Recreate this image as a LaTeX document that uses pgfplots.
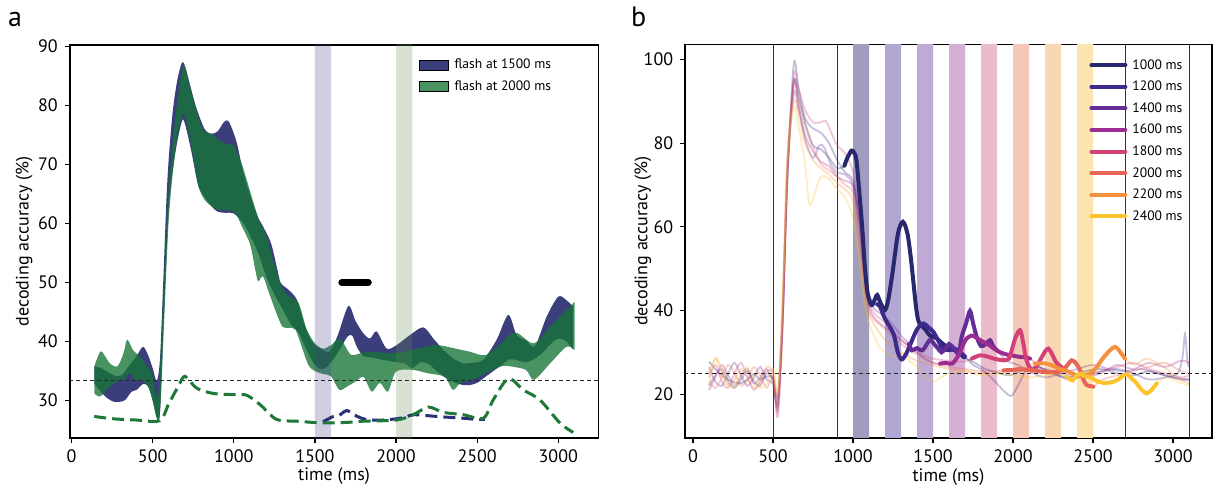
\documentclass[border=0pt]{standalone}
\usepackage{fontspec}
\setmainfont{PT Sans}
\usepackage{pgfplots}
\pgfplotsset{compat=1.18}
\usepgfplotslibrary{fillbetween}

\definecolor{bandblue}{RGB}{58,62,122}
\definecolor{bandgreen}{RGB}{22,117,55}
\definecolor{dashblue}{RGB}{40,48,120}
\definecolor{dashgreen}{RGB}{30,120,55}
\definecolor{barlav}{RGB}{67,63,139}
\definecolor{bargrn}{RGB}{99,139,84}
\definecolor{cA}{RGB}{40,40,110}
\definecolor{cB}{RGB}{62,42,140}
\definecolor{cC}{RGB}{100,45,150}
\definecolor{cD}{RGB}{155,45,145}
\definecolor{cE}{RGB}{210,65,120}
\definecolor{cF}{RGB}{232,100,85}
\definecolor{cG}{RGB}{245,145,60}
\definecolor{cH}{RGB}{252,195,45}
\definecolor{bA}{RGB}{160,156,190}
\definecolor{bB}{RGB}{178,166,210}
\definecolor{bC}{RGB}{190,170,212}
\definecolor{bD}{RGB}{213,176,213}
\definecolor{bE}{RGB}{234,188,203}
\definecolor{bF}{RGB}{245,199,185}
\definecolor{bG}{RGB}{249,214,180}
\definecolor{bH}{RGB}{253,229,178}

\pgfplotsset{
  myax/.style={
    scale only axis,
    axis line style={line width=0.9pt},
    tick align=outside,
    tick pos=left,
    major tick length=2.4pt,
    every tick/.style={black, line width=0.6pt},
    tick label style={font=\fontsize{9}{10}\selectfont},
    label style={font=\fontsize{9}{10}\selectfont},
    /pgf/number format/assume math mode=true,
    /pgf/number format/1000 sep={},
  },
  faint/.style={line width=0.9pt, draw opacity=0.3, smooth, forget plot},
  thick/.style={line width=2pt, line cap=round, smooth},
}

\begin{document}
\begin{tikzpicture}
\node[font=\fontsize{14}{16}\selectfont] at (7.5pt,234.4pt) {a};
\node[font=\fontsize{14}{16}\selectfont] at (319.3pt,235.6pt) {b};

% ---------------- panel a ----------------
\begin{axis}[myax,
  at={(34.8pt,24.85pt)}, anchor=south west,
  width=264.45pt, height=196.85pt,
  xmin=-12, xmax=3248, ymin=23.6, ymax=90.3,
  xtick={0,500,...,3000}, ytick={30,40,...,90},
  xlabel={time (ms)}, ylabel={decoding accuracy (\%)},
  xlabel style={at={(axis description cs:0.5,-0.0958)}, anchor=center},
  ylabel style={at={(axis description cs:-0.086,0.5)}, anchor=center},
  legend style={at={(axis cs:2140,88.0)}, anchor=north west, draw=none, fill=none,
    font=\fontsize{6.8}{8}\selectfont, row sep=4.1pt, inner sep=0pt,
    nodes={inner xsep=2.9pt, inner ysep=0pt, text height=5.2pt, text depth=1.3pt}},
  legend cell align=left,
  legend image code/.code={\fill[#1] (0pt,-2.5pt) rectangle (14.4pt,2.5pt);},
]
\addplot[name path=BU, draw=none, smooth, forget plot] coordinates {
(140,35.8) (180,35.5) (220,34.9) (270,34.2) (310,34.3) (350,35.7) (400,37.5) (440,39.1) (470,37.8) (500,35.5) (525,33.3)
(545,37) (565,50) (590,67) (620,78) (650,84) (680,87.2) (700,86.6) (730,83.5) (770,79.5) (820,76) (860,75.2) (900,75.6)
(940,77.2) (965,77.4) (990,76) (1020,73.5) (1060,68.5) (1110,64) (1150,61) (1180,59.5) (1230,56.6) (1270,52) (1290,49.9)
(1340,48.7) (1390,47) (1440,42.5) (1490,39.7) (1540,38.7) (1590,38.3) (1640,41) (1706,46) (1750,43.5) (1798,41.4)
(1840,40.5) (1880,41.7) (1942,38.8) (2004,39.4) (2086,41.1) (2168,42.4) (2230,40.5) (2291,38.6) (2350,37.2) (2414,36.3)
(2470,36.4) (2538,36.9) (2620,40.3) (2692,44.5) (2743,41.1) (2800,40.2) (2856,39.2) (2928,44.2) (3000,47.6) (3050,47) (3092,45.9)};
\addplot[name path=BL, draw=none, smooth, forget plot] coordinates {
(140,32.9) (180,31.5) (220,30.4) (260,29.8) (300,29.8) (331,30.1) (370,31.5) (402,31.8) (440,32.8) (472,32.4) (500,30) (525,27.2)
(545,28) (570,45) (600,63) (640,72) (680,77.3) (700,76.8) (740,72) (780,66.5) (820,64.5) (860,63) (900,62) (950,61.8) (1000,61.7)
(1060,60) (1100,58) (1150,55) (1200,51) (1250,48) (1300,45.5) (1350,43) (1400,41.5) (1450,38.5) (1500,36) (1550,35.3)
(1600,36.5) (1650,38.5) (1700,40.8) (1730,41) (1760,39) (1800,37.5) (1850,37.3) (1900,37) (2000,36.5) (2050,36.3)
(2100,35.5) (2150,36.5) (2200,36.2) (2250,35) (2300,34) (2350,33.2) (2400,32.7) (2450,32.6) (2500,33) (2550,34) (2600,35)
(2650,36) (2700,37) (2750,36.8) (2800,36.5) (2850,37) (2900,38) (2950,39.5) (3000,40.5) (3050,40) (3092,38.6)};
\addplot[bandblue, forget plot] fill between[of=BU and BL];

\addplot[name path=GU, draw=none, smooth, forget plot] coordinates {
(140,35.8) (177,38.3) (200,37.8) (236,36.3) (283,35.8) (320,38) (343,40.3) (380,38.5) (425,37.4) (460,36) (496,34.6) (520,30.5)
(540,33) (570,50) (600,66) (640,78) (680,86) (700,86.3) (740,82) (780,78) (820,75.5) (862,75.2) (900,74.2) (960,73.4)
(1000,73.2) (1050,70) (1100,65.5) (1158,60.3) (1200,58) (1250,53) (1300,49) (1350,47.5) (1400,46.5) (1450,42) (1500,39.7)
(1550,38.8) (1600,39.4) (1655,40.5) (1720,37.8) (1780,38) (1850,38.3) (1950,38) (2050,38.3) (2150,38.9) (2250,39.4)
(2350,38.9) (2450,38.3) (2550,37.7) (2650,39.7) (2700,41.1) (2750,41.4) (2850,39.7) (2950,42.5) (3050,45.3) (3100,46.7)};
\addplot[name path=GL, draw=none, smooth, forget plot] coordinates {
(140,31.2) (177,30.7) (236,32.4) (283,33.2) (320,33.5) (360,34.6) (390,33.5) (430,33.5) (470,32.5) (500,30) (525,27)
(545,28) (570,43) (600,61) (640,72.5) (680,78.3) (700,78) (740,73) (780,66.5) (820,64) (860,63) (900,62.3) (1000,62)
(1050,59.5) (1100,56.5) (1130,52.5) (1150,50.2) (1180,51) (1220,48) (1260,45) (1300,42.5) (1340,42.3) (1380,42) (1420,39)
(1460,36) (1500,35) (1550,34.5) (1600,34.1) (1650,31.8) (1700,32.4) (1750,33.2) (1800,34) (1850,31.5) (1900,33) (1950,31.5)
(2000,34.9) (2100,35.2) (2200,34.6) (2300,34) (2350,31.8) (2400,33) (2500,33.8) (2550,34.6) (2650,35.8) (2700,35.8)
(2800,35.2) (2850,33.5) (2950,36.3) (3050,39.1) (3100,38.6)};
\addplot[fill=bandgreen, fill opacity=0.78, draw=none, forget plot] fill between[of=GU and GL];

\addplot[fill=barlav, fill opacity=0.25, draw=none, forget plot] coordinates {(1500,0) (1600,0) (1600,100) (1500,100) (1500,0)};
\addplot[fill=bargrn, fill opacity=0.25, draw=none, forget plot] coordinates {(2000,0) (2100,0) (2100,100) (2000,100) (2000,0)};

\addplot[black!85, line width=0.6pt, dash pattern=on 2pt off 1.5pt, forget plot] coordinates {(-100,33.33) (3400,33.33)};

\addplot[dashblue, line width=1.5pt, dash pattern=on 6pt off 3pt, smooth, forget plot] coordinates {
(1550,26.4) (1613,27.3) (1650,27.5) (1696,28.3) (1740,27.6) (1798,26.9) (1850,26.7) (1921,26.7) (2000,26.9) (2060,27.2)
(2106,27.6) (2209,27.4) (2300,27.2) (2414,27) (2500,26.8) (2548,26.8)};
\addplot[dashgreen, line width=1.5pt, dash pattern=on 6pt off 3pt, smooth, forget plot] coordinates {
(140,27.3) (260,26.9) (400,26.7) (543,26.6) (600,29.5) (660,32.5) (699,34.1) (771,32.1) (874,31.2) (1000,31)
(1079,30.9) (1162,29.3) (1264,26.8) (1388,26.5) (1552,26.2) (1700,26.3) (1798,26.5) (2004,26.7) (2106,27.6) (2199,28.9)
(2291,28) (2414,27.6) (2538,27) (2599,30.1) (2692,33.7) (2784,31.8) (2887,30.1) (3010,26.2) (3092,24.6)};

\addplot[black, line width=3.3pt, line cap=round, forget plot] coordinates {(1665,50) (1830,50)};

\addlegendimage{fill=bandblue}
\addlegendentry{flash at 1500 ms}
\addlegendimage{fill=bandgreen, fill opacity=0.78}
\addlegendentry{flash at 2000 ms}
\end{axis}

% ---------------- panel b ----------------
\begin{axis}[myax,
  at={(342.5pt,25.15pt)}, anchor=south west,
  width=263.45pt, height=196.65pt,
  xmin=-50, xmax=3243, ymin=9.6, ymax=103.6,
  xtick={0,500,...,3000}, ytick={20,40,...,100},
  xlabel={time (ms)}, ylabel={decoding accuracy (\%)},
  xlabel style={at={(axis description cs:0.5,-0.0999)}, anchor=center},
  ylabel style={at={(axis description cs:-0.0797,0.5)}, anchor=center},
  legend style={at={(axis cs:2475,100.3)}, anchor=north west, draw=none, fill=none,
    font=\fontsize{6.8}{8}\selectfont, row sep=4.3pt, inner sep=0pt,
    nodes={inner xsep=2.5pt, inner ysep=0pt, text height=5.2pt, text depth=1.3pt}},
  legend cell align=left,
  legend image code/.code={\draw[#1] (0pt,0pt) -- (17pt,0pt);},
]
% bars
\addplot[fill=bA, draw=none, forget plot] coordinates {(1000,0) (1100,0) (1100,110) (1000,110) (1000,0)};
\addplot[fill=bB, draw=none, forget plot] coordinates {(1200,0) (1300,0) (1300,110) (1200,110) (1200,0)};
\addplot[fill=bC, draw=none, forget plot] coordinates {(1400,0) (1500,0) (1500,110) (1400,110) (1400,0)};
\addplot[fill=bD, draw=none, forget plot] coordinates {(1600,0) (1700,0) (1700,110) (1600,110) (1600,0)};
\addplot[fill=bE, draw=none, forget plot] coordinates {(1800,0) (1900,0) (1900,110) (1800,110) (1800,0)};
\addplot[fill=bF, draw=none, forget plot] coordinates {(2000,0) (2100,0) (2100,110) (2000,110) (2000,0)};
\addplot[fill=bG, draw=none, forget plot] coordinates {(2200,0) (2300,0) (2300,110) (2200,110) (2200,0)};
\addplot[fill=bH, draw=none, forget plot] coordinates {(2400,0) (2500,0) (2500,110) (2400,110) (2400,0)};
% vertical lines
\addplot[black!80, line width=0.5pt, forget plot] coordinates {(500,0) (500,110)};
\addplot[black!80, line width=0.5pt, forget plot] coordinates {(900,0) (900,110)};
\addplot[black!80, line width=0.5pt, forget plot] coordinates {(2700,0) (2700,110)};
\addplot[black!80, line width=0.5pt, forget plot] coordinates {(3100,0) (3100,110)};

% faint full courses
\addplot[cA, faint] coordinates {
(100,27.8) (140,26) (180,24.5) (220,23.5) (260,22.8) (300,22.6) (340,23.5) (380,24.8) (420,23.5) (460,24.2) (500,24) (530,19.5)
(560,38) (590,72) (630,94.5) (660,91) (700,85) (750,79.5) (800,78.5) (850,76.5) (900,74) (946,74.6) (990,78.2) (1021,76)
(1057,60) (1092,44) (1116,41.3) (1151,43.7) (1199,40.1) (1246,48.8) (1281,58.4) (1312,61.2) (1340,58.4) (1376,47.3)
(1411,37.3) (1447,35.7) (1482,34) (1553,32.3) (1648,30.3) (1695,28.8) (1760,27.5) (1830,26) (1900,25.2) (1980,24.5)
(2060,25.8) (2150,26.5) (2250,25) (2350,24) (2450,25.5) (2550,26) (2650,25) (2750,24.5) (2850,25.5) (2950,24.5) (3050,23.5) (3100,23.5)};
\addplot[cB, faint] coordinates {
(100,22) (140,24.5) (180,26) (220,23) (260,21.5) (300,23.5) (340,25.5) (380,23) (420,22) (460,25) (500,23.5) (530,17)
(560,37) (590,72) (630,99) (660,93) (700,86) (750,83.5) (800,82.5) (850,80) (900,76) (950,73) (1000,71) (1040,62) (1080,47)
(1120,42) (1169,40.9) (1200,38) (1252,34.5) (1280,30) (1304,28.3) (1330,29.5) (1356,31.7) (1400,35.5) (1440,36.9) (1470,36)
(1502,34.9) (1530,33) (1560,31) (1600,30.5) (1640,30.8) (1670,30) (1700,29) (1750,27) (1800,26) (1850,24.5) (1900,22.5)
(1950,20.5) (1990,19.6) (2030,22) (2080,25.5) (2150,26.5) (2250,25) (2350,23.5) (2450,24.5) (2550,25.5) (2650,26) (2750,25)
(2850,23.5) (2950,24) (3030,25) (3060,29) (3075,34.5) (3090,28) (3100,26.5)};
\addplot[cC, faint] coordinates {
(100,26.5) (140,23) (180,22) (220,25) (260,27.5) (300,24.5) (340,22) (380,24) (420,26.5) (460,23.5) (500,22.5) (530,18)
(560,39) (590,73) (630,95) (660,89) (700,81) (750,76.5) (790,79.5) (820,79) (860,75) (900,73) (950,72.5) (1000,70) (1040,62)
(1080,47) (1120,41) (1200,38.5) (1260,36) (1300,34) (1350,32) (1367,30.5) (1400,31) (1435,30.5) (1481,33) (1506,32)
(1530,31) (1553,30) (1580,31) (1600,32) (1630,31) (1660,29.7) (1679,33.7) (1707,37) (1731,39.9) (1750,37) (1773,33.7)
(1800,31.5) (1830,32) (1856,32.9) (1875,31.5) (1898,30.5) (1960,28) (2030,27) (2100,25.5) (2200,24) (2300,25) (2400,26)
(2500,27) (2600,26) (2700,25.5) (2800,26) (2900,25) (3000,24) (3100,23.5)};
\addplot[cD, faint] coordinates {
(100,21) (140,24) (180,27) (220,24.5) (260,22) (300,24.5) (340,26) (380,22.5) (420,24) (460,26) (500,23) (530,16)
(560,38) (590,74) (630,92) (660,88) (700,82) (750,78) (800,75.5) (850,74.5) (900,72) (950,71) (1000,69.5) (1040,60) (1080,45)
(1120,39) (1200,36) (1300,33) (1400,30) (1450,28.5) (1500,27.5) (1544,27.3) (1580,27.5) (1620,27.3) (1659,29.3) (1690,32)
(1710,33.3) (1740,34) (1763,33.7) (1800,32.8) (1840,32) (1877,31) (1920,30) (1960,29.5) (2000,29.2) (2044,28.9) (2080,28.8)
(2106,28.5) (2170,26.5) (2250,25.5) (2350,24.5) (2450,24) (2550,25) (2650,27) (2750,26) (2850,27.5) (2950,26.5) (3050,28) (3100,27.5)};
\addplot[cE, faint] coordinates {
(100,24) (140,27) (180,23) (220,21.5) (260,25) (300,27.5) (340,24) (380,21) (420,23) (460,25.5) (500,25) (530,14.5)
(560,36) (590,72) (630,96.5) (660,93) (700,88) (750,85) (800,85) (830,85.3) (870,82) (900,79.5) (950,77.5) (1000,73)
(1040,62) (1080,45) (1120,40) (1200,37) (1300,33) (1400,30) (1500,28.5) (1600,28) (1700,27.8) (1742,28.5) (1794,29.3)
(1840,29) (1880,28.5) (1940,28.1) (1975,28.5) (1992,30.5) (2015,33.5) (2044,35.3) (2065,32) (2085,28) (2117,25.7) (2145,26.5)
(2169,28.1) (2200,30.2) (2221,30.9) (2245,29.5) (2263,28) (2285,27) (2304,26.5) (2380,25) (2450,24) (2550,25.5) (2650,26.5)
(2750,27.5) (2850,26) (2950,25) (3050,24) (3100,24.5)};
\addplot[cF, faint] coordinates {
(100,23) (140,21.5) (180,24) (220,27) (260,25) (300,22) (340,23.5) (380,26.5) (420,24.5) (460,21.5) (500,24) (530,17.5)
(560,40) (590,76) (630,94) (660,90) (700,84) (750,79) (800,75) (850,73.5) (900,72) (950,70) (1000,68) (1040,57) (1080,43)
(1120,38.5) (1200,35.5) (1300,32) (1400,29.5) (1500,27.5) (1600,26.5) (1700,26) (1800,25.5) (1900,25.5) (1940,25.7)
(2000,25.8) (2044,26) (2090,25.8) (2127,25.7) (2200,25.3) (2260,25.3) (2294,25.5) (2330,26.5) (2367,28.1) (2395,27.3)
(2419,25.7) (2440,23.5) (2460,22.2) (2502,21.8) (2560,23.5) (2650,24.5) (2750,25.5) (2850,26.5) (2950,27.5) (3050,25.5) (3100,25)};
\addplot[cG, faint] coordinates {
(100,25) (140,28.5) (180,25) (220,22) (260,23.5) (300,26) (340,24) (380,21.5) (420,23) (460,26.5) (500,25.5) (530,20)
(560,42) (590,77) (630,90) (660,87) (700,80) (750,76) (800,74) (850,72.5) (900,70.5) (950,69) (1000,66) (1040,55) (1080,42)
(1120,37.5) (1200,33) (1300,30) (1400,28) (1500,27) (1600,26) (1700,25.5) (1800,25) (1900,25) (2000,25.5) (2080,26.5)
(2137,27.3) (2180,27.4) (2220,27.2) (2260,26.6) (2294,26) (2325,25.7) (2357,25.2) (2387,24.7) (2420,24.3) (2450,24.5)
(2490,25.2) (2523,26.5) (2560,28.5) (2606,30.5) (2637,31.3) (2660,30.6) (2685,29.3) (2700,28.5) (2760,27) (2830,28.5)
(2900,27.5) (2980,25.5) (3050,23.5) (3100,22.5)};
\addplot[cH, faint] coordinates {
(100,22) (140,28.8) (180,26) (220,22.5) (260,21.5) (300,24.5) (340,26.5) (380,24) (420,21.5) (460,22.5) (500,26) (530,21)
(560,43) (590,75) (630,88.5) (660,84) (700,75) (728,65.2) (760,68) (800,72) (850,71.5) (900,69) (950,67) (1000,62) (1040,52)
(1080,40) (1120,35) (1170,31) (1250,29) (1300,30) (1350,28) (1400,26.5) (1450,24.5) (1500,23) (1550,24) (1600,25) (1700,25.5)
(1800,24.5) (1900,25) (2000,24.5) (2100,24) (2200,24.5) (2290,24.8) (2335,24.1) (2355,23.6) (2373,23.3) (2400,24.5)
(2425,24.9) (2450,24.3) (2481,24.1) (2520,23.2) (2565,22.7) (2610,22.8) (2648,23.3) (2680,24.2) (2710,24.8) (2740,23.8)
(2773,22.6) (2800,21.2) (2835,20.2) (2865,21) (2898,22.6) (2960,24) (3030,23) (3100,22)};

\addplot[black!85, line width=0.6pt, dash pattern=on 2pt off 1.5pt, forget plot] coordinates {(-100,25) (3400,25)};

% thick segments
\addplot[cA, thick] coordinates {
(946,74.6) (965,76.5) (990,78.2) (1005,77.8) (1021,76) (1040,68) (1057,60) (1075,50) (1092,44) (1116,41.3) (1135,42.5)
(1151,43.7) (1170,42) (1199,40.1) (1220,42.5) (1246,48.8) (1281,58.4) (1312,61.2) (1340,58.4) (1360,53) (1376,47.3)
(1395,40.5) (1411,37.3) (1447,35.7) (1482,34) (1518,33.5) (1553,32.3) (1600,31) (1648,30.3) (1695,28.8)};
\addlegendentry{1000 ms}
\addplot[cB, thick] coordinates {
(1151,41.5) (1169,40.9) (1200,38) (1252,34.5) (1280,30) (1304,28.3) (1330,29.5) (1356,31.7) (1400,35.5) (1440,36.9)
(1470,36) (1502,34.9) (1530,33) (1560,31) (1600,30.5) (1640,30.8) (1670,30) (1700,29)};
\addlegendentry{1200 ms}
\addplot[cC, thick] coordinates {
(1350,32) (1367,30.5) (1400,31) (1435,30.5) (1481,33) (1506,32) (1530,31) (1553,30) (1580,31) (1600,32) (1630,31)
(1660,29.7) (1679,33.7) (1707,37) (1731,39.9) (1750,37) (1773,33.7) (1800,31.5) (1830,32) (1856,32.9) (1875,31.5) (1898,30.5)};
\addlegendentry{1400 ms}
\addplot[cD, thick] coordinates {
(1544,27.3) (1580,27.5) (1620,27.3) (1659,29.3) (1690,32) (1710,33.3) (1740,34) (1763,33.7) (1800,32.8) (1840,32)
(1877,31) (1920,30) (1960,29.5) (2000,29.2) (2044,28.9) (2080,28.8) (2106,28.5)};
\addlegendentry{1600 ms}
\addplot[cE, thick] coordinates {
(1742,28.5) (1794,29.3) (1840,29) (1880,28.5) (1940,28.1) (1975,28.5) (1992,30.5) (2015,33.5) (2044,35.3) (2065,32)
(2085,28) (2117,25.7) (2145,26.5) (2169,28.1) (2200,30.2) (2221,30.9) (2245,29.5) (2263,28) (2285,27) (2304,26.5)};
\addlegendentry{1800 ms}
\addplot[cF, thick] coordinates {
(1940,25.7) (2000,25.8) (2044,26) (2090,25.8) (2127,25.7) (2200,25.3) (2260,25.3) (2294,25.5) (2330,26.5) (2367,28.1)
(2395,27.3) (2419,25.7) (2440,23.5) (2460,22.2) (2502,21.8)};
\addlegendentry{2000 ms}
\addplot[cG, thick] coordinates {
(2137,27.3) (2180,27.4) (2220,27.2) (2260,26.6) (2294,26) (2325,25.7) (2357,25.2) (2387,24.7) (2420,24.3) (2450,24.5)
(2490,25.2) (2523,26.5) (2560,28.5) (2606,30.5) (2637,31.3) (2660,30.6) (2685,29.3) (2700,28.5)};
\addlegendentry{2200 ms}
\addplot[cH, thick] coordinates {
(2335,24.1) (2355,23.6) (2373,23.3) (2400,24.5) (2425,24.9) (2450,24.3) (2481,24.1) (2520,23.2) (2565,22.7) (2610,22.8)
(2648,23.3) (2680,24.2) (2710,24.8) (2740,23.8) (2773,22.6) (2800,21.2) (2835,20.2) (2865,21) (2898,22.6)};
\addlegendentry{2400 ms}
\end{axis}
\pgfresetboundingbox
\path[use as bounding box] (0,0) rectangle (606.5pt,244pt);
\end{tikzpicture}
\end{document}
